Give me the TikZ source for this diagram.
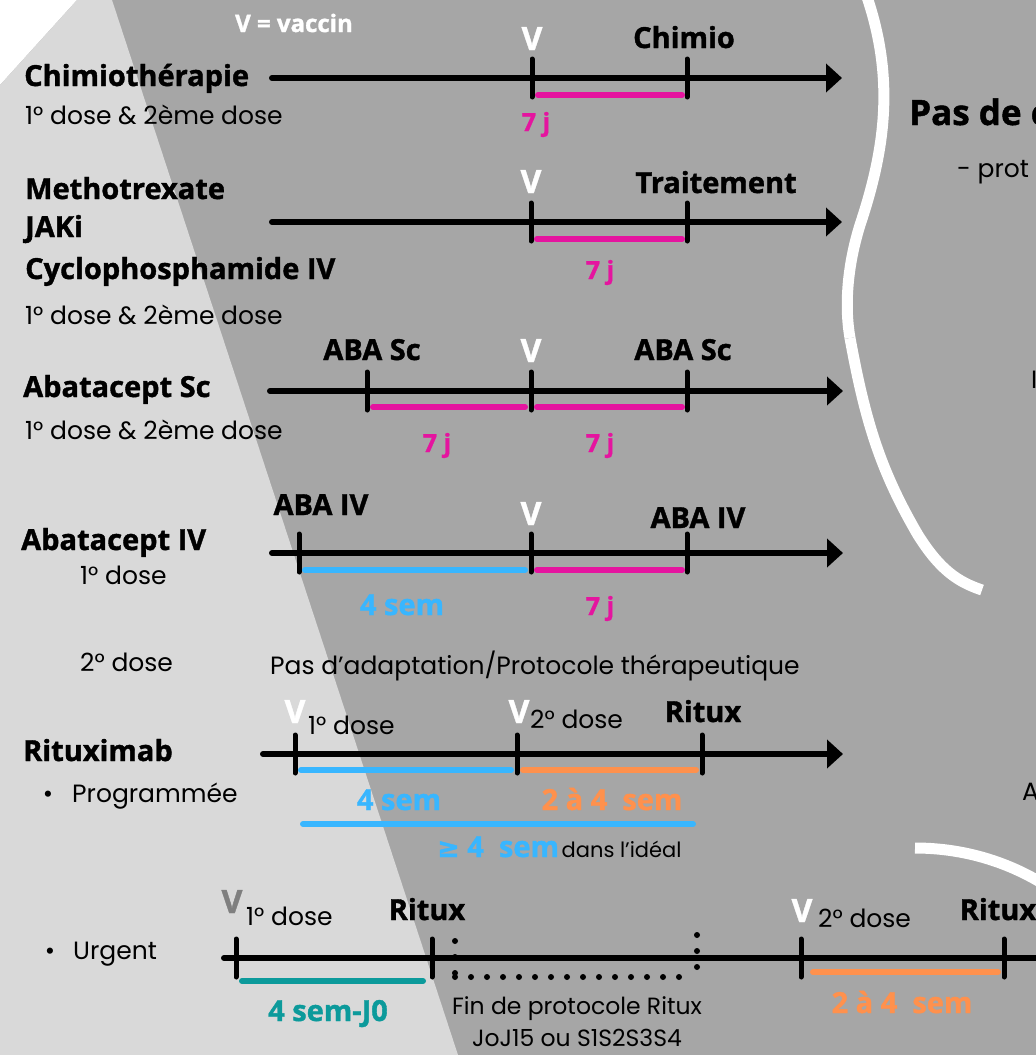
\documentclass[tikz,border=0pt]{standalone}
\usepackage{fontspec}
\setmainfont{Poppins}
\newfontfamily\hfont{Open Sans}[BoldFeatures={FakeBold=1.3}]
\newfontfamily\symfont{DejaVu Sans}[BoldFeatures={FakeBold=1.3}]
\usetikzlibrary{arrows.meta, calc}

\definecolor{bgdark}{HTML}{A6A6A6}
\definecolor{bglight}{HTML}{D9D9D9}
\definecolor{vmag}{HTML}{E5149F}
\definecolor{vblue}{HTML}{38B6FF}
\definecolor{vorange}{HTML}{FF914D}
\definecolor{vteal}{HTML}{0C9A9B}
\definecolor{vgray}{HTML}{7F7F7F}

\tikzset{
    axis/.style={line width=6pt, line cap=round, -{Triangle[length=16pt, width=28pt]}},
    axisplain/.style={line width=6pt, line cap=round},
    tickmark/.style={line width=5pt, line cap=round},
    bar/.style={line width=6pt, line cap=round},
    dots/.style={line width=6pt, line cap=round, dash pattern=on 0pt off 16pt},
    head/.style={font=\hfont\bfseries\fontsize{29}{32}\selectfont, inner sep=0pt, anchor=base west},
    evt/.style={font=\hfont\bfseries\fontsize{29}{32}\selectfont, inner sep=0pt, anchor=base},
    vlab/.style={font=\hfont\bfseries\fontsize{32}{34}\selectfont, text=white, inner sep=0pt, anchor=base},
    jours/.style={font=\hfont\bfseries\fontsize{25}{28}\selectfont, text=vmag, inner sep=0pt, anchor=base},
    sem/.style={font=\hfont\bfseries\fontsize{29}{32}\selectfont, inner sep=0pt, anchor=base},
    thin/.style={font=\fontsize{25}{28}\selectfont, inner sep=0pt, anchor=base west},
    small/.style={font=\fontsize{23.5}{26}\selectfont, inner sep=0pt, anchor=base west},
}

\begin{document}
\begin{tikzpicture}[x=1pt, y=-1pt]
    \useasboundingbox (0,0) rectangle (1036,1055);
    \clip (0,0) rectangle (1036,1055);

    % background
    \fill[bgdark] (0,0) rectangle (1036,1055);
    \fill[white] (0,0) -- (77,0) -- (0,85) -- cycle;
    \fill[bglight] (0,85) -- (77,0) -- (112,0) -- (458,1055) -- (0,1055) -- cycle;
    \draw[white, line width=11pt] (867,-3) .. controls (895,80) and (885,150) .. (860,225)
        .. controls (846,270) and (845,310) .. (850,338);
    \draw[white, line width=11pt] (850,338) .. controls (865,420) and (880,470) .. (918,535)
        .. controls (940,570) and (958,582) .. (982,590);
    \draw[white, line width=11pt] (915,848) .. controls (960,848) and (1005,860) .. (1045,885);

    \node[font=\hfont\bfseries\fontsize{24}{26}\selectfont, text=white, inner sep=0pt, anchor=base] (key) at (294,32) {V = vaccin};

    % Chimiotherapie
    \coordinate (aS) at (272,78);
    \coordinate (a1) at (532,78);
    \coordinate (a2) at (687,78);
    \coordinate (aE) at (842,78);
    \node[head] (chimioth) at (24,86) {Chimiothérapie};
    \node[thin] (dosea) at (25,124) {1° dose \& 2ème dose};
    \draw[axis] (aS) -- (aE);
    \draw[bar, vmag] ($(a1)+(6,17)$) -- ($(a2)+(-5,17)$);
    \node[vlab] (va) at ($(a1)+(0,-28)$) {V};
    \node[evt] (chimio) at ($(a2)+(-3,-30)$) {Chimio};
    \node[jours] (ja) at ($(a1)+(4,53)$) {7 j};

    % Methotrexate / JAKi / Cyclophosphamide
    \coordinate (bS) at (272,222);
    \coordinate (b1) at (531,222);
    \coordinate (b2) at (687,222);
    \coordinate (bE) at (842,222);
    \node[head] (mtx) at (25,199) {Methotrexate};
    \node[head] (jaki) at (25,237) {JAKi};
    \node[head] (cyclo) at (25,279) {Cyclophosphamide IV};
    \node[thin] (doseb) at (25,324) {1° dose \& 2ème dose};
    \draw[axis] (bS) -- (bE);
    \draw[bar, vmag] ($(b1)+(6,17)$) -- ($(b2)+(-5,17)$);
    \node[vlab] (vb) at ($(b1)+(0,-29)$) {V};
    \node[evt] (trait) at ($(b2)+(29,-29)$) {Traitement};
    \node[jours] (jb) at ($(b1)+(69,57)$) {7 j};

    % Abatacept Sc
    \coordinate (cS) at (270,391);
    \coordinate (c0) at (367,391);
    \coordinate (c1) at (531,391);
    \coordinate (c2) at (687,391);
    \coordinate (cE) at (843,391);
    \node[head] (abasc) at (23,397) {Abatacept Sc};
    \node[thin] (dosec) at (25,439) {1° dose \& 2ème dose};
    \draw[axis] (cS) -- (cE);
    \draw[bar, vmag] ($(c0)+(6,16)$) -- ($(c1)+(-6,16)$);
    \draw[bar, vmag] ($(c1)+(6,16)$) -- ($(c2)+(-5,16)$);
    \node[evt] (scA) at ($(c0)+(5,-31)$) {ABA Sc};
    \node[vlab] (vc) at ($(c1)+(0,-29)$) {V};
    \node[evt] (scB) at ($(c2)+(-4,-31)$) {ABA Sc};
    \node[jours] (jc1) at ($(c0)+(70,61)$) {7 j};
    \node[jours] (jc2) at ($(c1)+(69,61)$) {7 j};

    % Abatacept IV
    \coordinate (dS) at (272,553);
    \coordinate (d0) at (299,553);
    \coordinate (d1) at (531,553);
    \coordinate (d2) at (687,553);
    \coordinate (dE) at (843,553);
    \node[head] (abaiv) at (21,550) {Abatacept IV};
    \node[thin] (dosed1) at (80,584) {1° dose};
    \node[thin] (dosed2) at (80,671) {2° dose};
    \node[thin] (adapt) at (270,674) {Pas d'adaptation/Protocole thérapeutique};
    \draw[axis] (dS) -- (dE);
    \draw[bar, vblue] ($(d0)+(6,17)$) -- ($(d1)+(-6,17)$);
    \draw[bar, vmag] ($(d1)+(6,17)$) -- ($(d2)+(-5,17)$);
    \node[evt] (ivA) at ($(d0)+(22,-38)$) {ABA IV};
    \node[vlab] (vd) at ($(d1)+(0,-28)$) {V};
    \node[evt] (ivB) at ($(d2)+(11,-25)$) {ABA IV};
    \node[sem, text=vblue] (sd) at ($(d0)+(103,62)$) {4 sem};
    \node[jours] (jd) at ($(d1)+(69,62)$) {7 j};

    % Rituximab programmee
    \coordinate (eS) at (263,754);
    \coordinate (e0) at (295,754);
    \coordinate (e1) at (517,754);
    \coordinate (e2) at (702,754);
    \coordinate (eE) at (843,754);
    \node[head] (ritux) at (23,761) {Rituximab};
    \node[thin, anchor=base] (bulletA) at (48,802) {•};
    \node[thin] (prog) at (72,802) {Programmée};
    \draw[axis] (eS) -- (eE);
    \draw[bar, vblue] ($(e0)+(6,16)$) -- ($(e1)+(-6,16)$);
    \draw[bar, vorange] ($(e1)+(6,16)$) -- ($(e2)+(-6,16)$);
    \draw[bar, vblue] ($(e0)+(8,70)$) -- ($(e2)+(-9,70)$);
    \node[vlab] (ve1) at ($(e0)+(0,-31)$) {V};
    \node[thin] (de1) at ($(e0)+(13,-20)$) {1° dose};
    \node[vlab] (ve2) at ($(e1)+(2,-31)$) {V};
    \node[thin] (de2) at ($(e1)+(13,-26)$) {2° dose};
    \node[evt] (rxe) at ($(e2)+(1,-32)$) {Ritux};
    \node[sem, text=vblue] (se1) at ($(e0)+(104,56)$) {4 sem};
    \node[sem, text=vorange] (se2) at ($(e1)+(95,56)$) {2 à 4 \ sem};
    \node[inner sep=0pt, anchor=base west] (ideal) at ($(e0)+(142,103)$)
        {{\color{vblue}\symfont\bfseries\fontsize{27}{30}\selectfont ≥}{\color{vblue}\hfont\bfseries\fontsize{29}{32}\selectfont\ 4 \ sem}\ {\fontsize{21}{24}\selectfont dans l'idéal}};

    % Rituximab urgent
    \coordinate (fS) at (224,958);
    \coordinate (f0) at (236,958);
    \coordinate (f1) at (432,958);
    \coordinate (f2) at (801,958);
    \coordinate (f3) at (1004,958);
    \coordinate (fE) at (1050,958);
    \coordinate (p1) at (455,941);
    \coordinate (p2) at (455,977);
    \coordinate (p3) at (680,977);
    \coordinate (q1) at (697,935);
    \coordinate (q2) at (697,968);
    \node[thin, anchor=base] (bulletB) at (50,959) {•};
    \node[thin] (urg) at (73,959) {Urgent};
    \draw[axisplain] (fS) -- (fE);
    \draw[bar, vteal] ($(f0)+(6,23)$) -- ($(f1)+(-9,23)$);
    \draw[bar, vorange] ($(f2)+(12,14)$) -- ($(f3)+(-6,14)$);
    \draw[dots] (p1) -- (p2);
    \draw[dots] (p2) -- (p3);
    \draw[dots] (q1) -- (q2);
    \node[vlab, text=vgray] (vf1) at ($(f0)+(-4,-45)$) {V};
    \node[thin] (df1) at ($(f0)+(10,-33)$) {1° dose};
    \node[evt] (rxf1) at ($(f1)+(-5,-38)$) {Ritux};
    \node[sem, text=vteal] (sf1) at ($(f0)+(92,63)$) {4 sem-J0};
    \node[small, anchor=base] (fin) at (577,1014) {Fin de protocole Ritux};
    \node[small, anchor=base] (joj) at (577,1046) {JoJ15 ou S1S2S3S4};
    \node[vlab] (vf2) at ($(f2)+(1,-36)$) {V};
    \node[thin] (df2) at ($(f2)+(17,-31)$) {2° dose};
    \node[evt] (rxf2) at ($(f3)+(-6,-38)$) {Ritux};
    \node[sem, text=vorange] (sf2) at ($(f2)+(101,55)$) {2 à 4 \ sem};

    % ticks
    \foreach \t in {a1,a2,b1,b2,c0,c1,c2,d0,d1,d2,e0,e1,e2,f0,f1,f2,f3}
        \draw[tickmark] ($(\t)+(0,-19)$) -- ($(\t)+(0,19)$);

    % right column, cut by the frame
    \node[head, font=\hfont\bfseries\fontsize{35}{38}\selectfont] (pasde) at (909,125) {Pas de c};
    \node[thin] (prot) at (957,177) {- prot};
    \node[thin] (edgeI) at (1031,388) {I};
    \node[thin] (edgeA) at (1022,800) {A};
\end{tikzpicture}
\end{document}
